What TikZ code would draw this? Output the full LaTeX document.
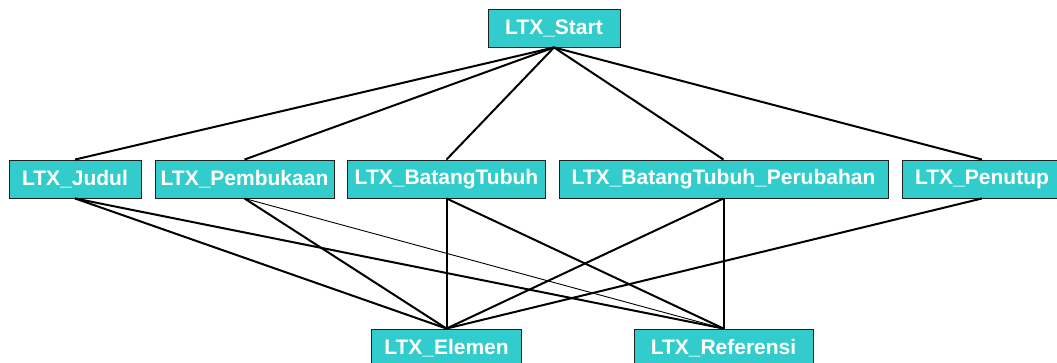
\documentclass[tikz,border=0pt]{standalone}
\usepackage{fontspec}
\setmainfont{Liberation Sans}
\definecolor{boxfill}{HTML}{33CCCC}
\definecolor{boxedge}{HTML}{202020}
\begin{document}
\begin{tikzpicture}[x=1pt,y=-1pt,
  box/.style={draw=boxedge,line width=0.9pt,fill=boxfill,text=white,font=\fontsize{21}{23}\selectfont\bfseries,minimum height=38pt,inner sep=0pt,anchor=center},
  link/.style={line width=2pt,black},
  thinlink/.style={line width=0.9pt,black}]
\useasboundingbox (0,0) rectangle (1057,362);
\clip (0,0) rectangle (1057,362);
\node[box,minimum width=132pt] (start) at (554,28) {LTX\_Start};
\node[box,minimum width=132pt] (judul) at (75,179) {LTX\_Judul};
\node[box,minimum width=179pt] (pemb) at (244.5,179) {LTX\_Pembukaan};
\node[box,minimum width=198pt] (bt) at (446.5,179) {LTX\_BatangTubuh};
\node[box,minimum width=329pt] (btp) at (723.5,179) {LTX\_BatangTubuh\_Perubahan};
\node[box,minimum width=160pt] (pen) at (982,179) {LTX\_Penutup};
\node[box,minimum width=150pt] (elem) at (446.5,348) {LTX\_Elemen};
\node[box,minimum width=179pt] (ref) at (723.5,348) {LTX\_Referensi};
\draw[link] (start.south) -- (judul.north);
\draw[link] (start.south) -- (pemb.north);
\draw[link] (start.south) -- (bt.north);
\draw[link] (start.south) -- (btp.north);
\draw[link] (start.south) -- (pen.north);
\draw[link] (judul.south) -- (elem.north);
\draw[link] (judul.south) -- (ref.north);
\draw[link] (pemb.south) -- (elem.north);
\draw[thinlink] (pemb.south) -- (ref.north);
\draw[link] (bt.south) -- (elem.north);
\draw[link] (bt.south) -- (ref.north);
\draw[link] (btp.south) -- (elem.north);
\draw[link] (btp.south) -- (ref.north);
\draw[link] (pen.south) -- (elem.north);
\end{tikzpicture}
\end{document}
